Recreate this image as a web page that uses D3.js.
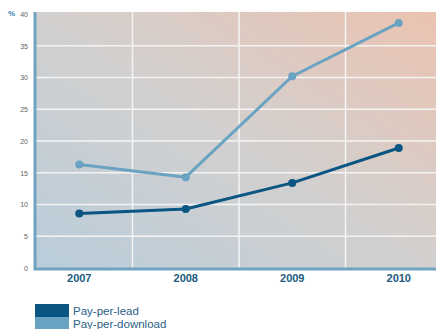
<!DOCTYPE html>
<html>
<head>
<meta charset="utf-8">
<script src="https://cdn.jsdelivr.net/npm/d3@7"></script>
<style>
  html, body { margin: 0; padding: 0; background: #fff; }
  svg { display: block; }
  text { font-family: "Liberation Sans Narrow", "Liberation Sans", Arial, sans-serif; }
</style>
</head>
<body>
<svg id="chart" width="436" height="329"></svg>
<script>
// Years on the x axis
const years = ["2007", "2008", "2009", "2010"];
// Share of revenue (%) per pricing model
const payPerLead = [8.6, 9.3, 13.4, 18.9];
const payPerDownload = [16.3, 14.3, 30.2, 38.6];
// Value-axis ticks
const yTicks = [0, 5, 10, 15, 20, 25, 30, 35, 40];
const seriesNames = ["Pay-per-lead", "Pay-per-download"];
const seriesColors = ["#0b5583", "#6aa2c2"];

const svg = d3.select("#chart");
const plot = { left: 35, right: 436, top: 12, bottom: 269 };

const x = d3.scaleBand().domain(years).range([26, 452]);
const y = d3.scaleLinear().domain([0, 40]).range([268, 14]);

// Background gradient: blue bottom-left to peach top-right
const defs = svg.append("defs");
const grad = defs.append("linearGradient")
  .attr("id", "bg").attr("x1", "0%").attr("y1", "100%").attr("x2", "100%").attr("y2", "0%");
grad.append("stop").attr("offset", "0%").attr("stop-color", "#b9cddb");
grad.append("stop").attr("offset", "50%").attr("stop-color", "#d2d0cf");
grad.append("stop").attr("offset", "100%").attr("stop-color", "#ebc3b1");

svg.append("rect")
  .attr("x", plot.left).attr("y", plot.top)
  .attr("width", plot.right - plot.left).attr("height", plot.bottom - plot.top)
  .attr("fill", "url(#bg)");

// Horizontal gridlines
svg.append("g").selectAll("line")
  .data(yTicks.filter(d => d > 0 && d < 40))
  .join("line")
  .attr("x1", plot.left).attr("x2", plot.right)
  .attr("y1", d => y(d)).attr("y2", d => y(d))
  .attr("stroke", "#f4f4f4").attr("stroke-width", 1.5);

// Vertical gridlines between years
svg.append("g").selectAll("line")
  .data(years.slice(1))
  .join("line")
  .attr("x1", d => x(d)).attr("x2", d => x(d))
  .attr("y1", plot.top).attr("y2", plot.bottom)
  .attr("stroke", "#f4f4f4").attr("stroke-width", 1.5);

// Axis lines
svg.append("path")
  .attr("d", `M${plot.left},${plot.top}V${plot.bottom}H${plot.right}`)
  .attr("fill", "none").attr("stroke", "#6fa3c0").attr("stroke-width", 3);

// Y tick labels
const yAxis = d3.axisLeft(y).tickValues(yTicks).tickSize(0).tickPadding(0);
const yg = svg.append("g").attr("transform", "translate(28,0)").call(yAxis);
yg.select(".domain").remove();
yg.selectAll("text")
  .attr("fill", "#5f5f5f").attr("font-size", 7)
  .style("font-family", "'Liberation Sans Narrow', 'Liberation Sans', sans-serif");

svg.append("text").attr("x", 8).attr("y", 16)
  .attr("font-size", 8).attr("font-weight", "bold").attr("fill", "#3d86b3")
  .text("%");

// X tick labels
const xAxis = d3.axisBottom(x).tickSize(0).tickPadding(0);
const xg = svg.append("g").attr("transform", "translate(0,273)").call(xAxis);
xg.select(".domain").remove();
xg.selectAll("text")
  .attr("fill", "#1d5a80").attr("font-size", 11).attr("font-weight", "bold")
  .attr("dy", "0.85em")
  .style("font-family", "'Liberation Sans Narrow', 'Liberation Sans', sans-serif");

// Lines and markers
const cx = d => x(d) + x.bandwidth() / 2;
const line = d3.line().x(d => cx(d.year)).y(d => y(d.value));
[payPerDownload, payPerLead].forEach((vals, i) => {
  const color = i === 0 ? seriesColors[1] : seriesColors[0];
  const data = years.map((yr, j) => ({ year: yr, value: vals[j] }));
  svg.append("path").datum(data)
    .attr("d", line).attr("fill", "none")
    .attr("stroke", color).attr("stroke-width", 3).attr("stroke-linejoin", "round");
  svg.append("g").selectAll("circle").data(data).join("circle")
    .attr("cx", d => cx(d.year)).attr("cy", d => y(d.value))
    .attr("r", 4).attr("fill", color);
});

// Legend
const legend = svg.append("g");
seriesNames.forEach((name, i) => {
  legend.append("rect")
    .attr("x", 35).attr("y", 304 + i * 13)
    .attr("width", 34).attr("height", 13)
    .attr("fill", seriesColors[i]);
  legend.append("text")
    .attr("x", 73).attr("y", 315 + i * 13)
    .attr("font-size", 11.5).attr("fill", "#2a6088")
    .text(name);
});
</script>
</body>
</html>
